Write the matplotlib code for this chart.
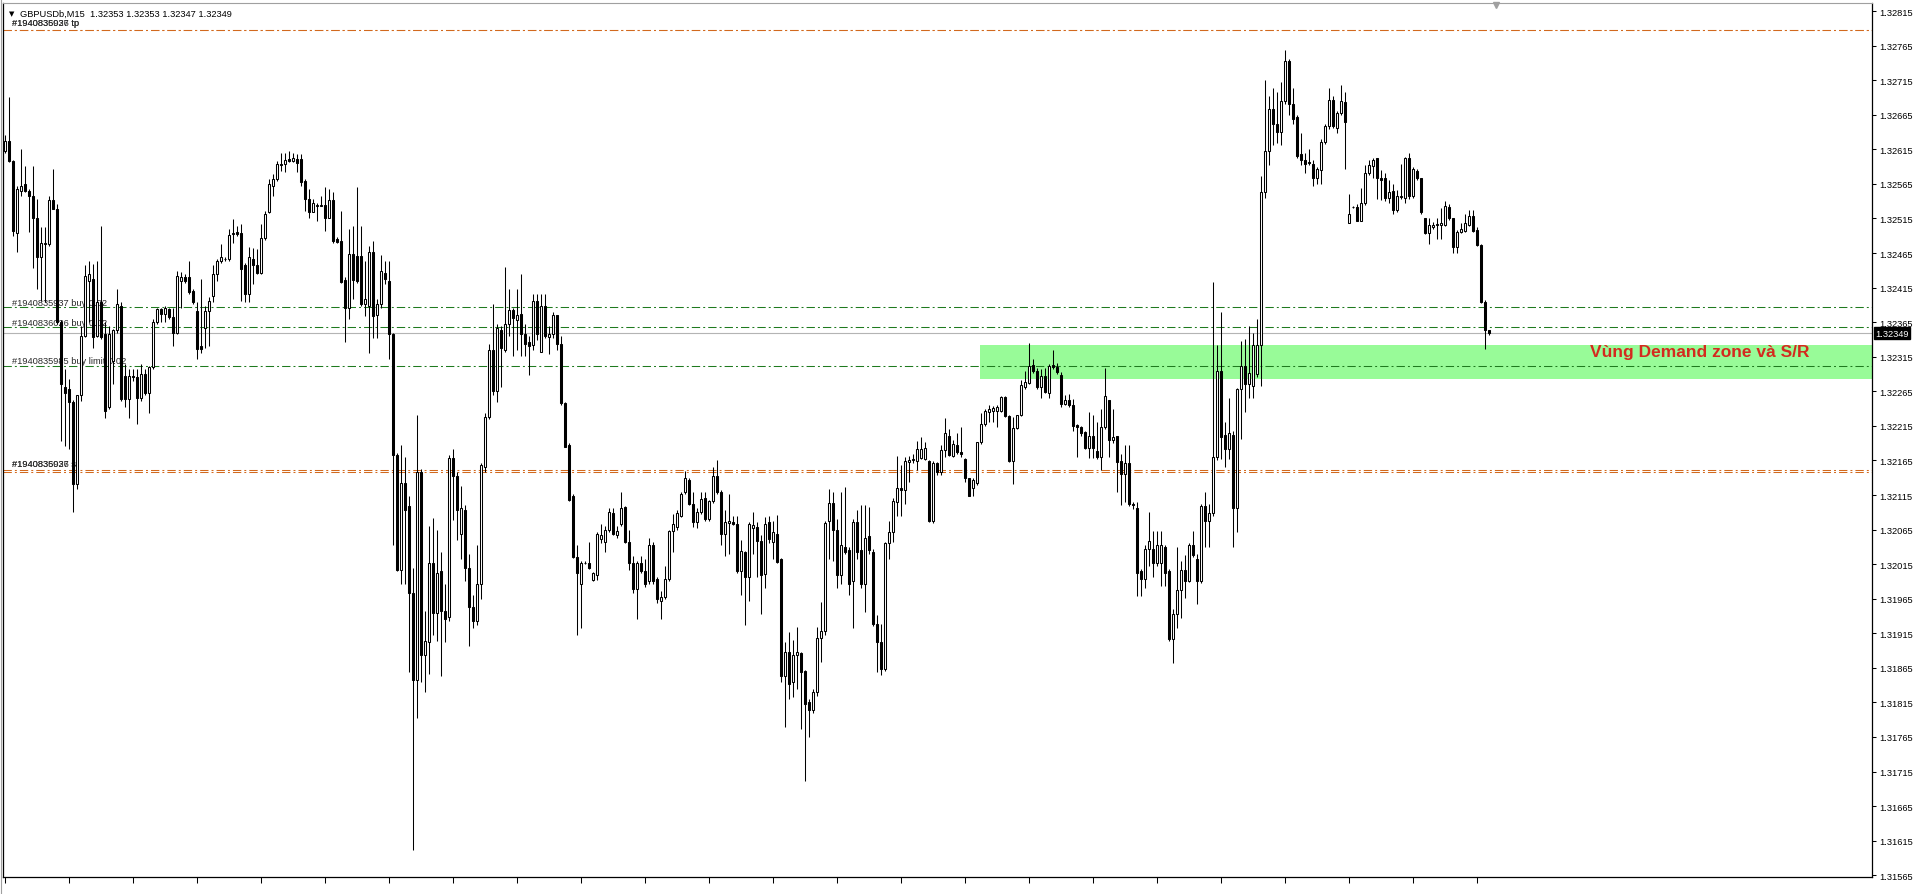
import numpy as np
import matplotlib
matplotlib.use("Agg")
import matplotlib.pyplot as plt
from matplotlib.patches import Rectangle
from matplotlib.lines import Line2D

plt.rcParams['lines.scale_dashes'] = False
plt.rcParams['font.family'] = ['Liberation Sans', 'DejaVu Sans']

# GBPUSDb M15 bars, prices given in points above 1.30000
BASE = 1.30
open_pts = [
    2613, 2627, 2598, 2494, 2555, 2565, 2555, 2548, 2515, 2459,
    2478, 2478, 2541, 2528, 2365, 2271, 2268, 2249, 2131, 2259,
    2345, 2425, 2427, 2345, 2394, 2348, 2242, 2309, 2353, 2389,
    2287, 2254, 2287, 2285, 2256, 2290, 2263, 2300, 2365, 2384,
    2377, 2384, 2372, 2350, 2425, 2431, 2430, 2410, 2381, 2331,
    2357, 2381, 2403, 2434, 2454, 2456, 2456, 2492, 2495, 2494,
    2447, 2406, 2457, 2447, 2436, 2486, 2524, 2562, 2572, 2594,
    2594, 2601, 2598, 2601, 2601, 2569, 2543, 2525, 2533, 2533,
    2534, 2516, 2541, 2485, 2483, 2426, 2385, 2464, 2461, 2461,
    2391, 2389, 2467, 2376, 2391, 2436, 2425, 2348, 2173, 2007,
    2133, 2099, 1973, 1847, 2148, 1884, 1902, 2016, 1944, 2005,
    1947, 1939, 2168, 2142, 2059, 2093, 2010, 1953, 1933, 1987,
    2156, 2228, 2325, 2265, 2353, 2325, 2362, 2383, 2368, 2377,
    2348, 2336, 2332, 2396, 2322, 2388, 2343, 2348, 2375, 2333,
    2248, 2188, 2114, 2025, 1987, 2017, 2017, 1992, 1999, 2051,
    2047, 2065, 2089, 2057, 2073, 2097, 2047, 2017, 1979, 2017,
    2005, 1990, 2042, 1993, 1962, 1967, 1993, 2063, 2068, 2085,
    2119, 2136, 2102, 2076, 2091, 2110, 2080, 2106, 2143, 2119,
    2059, 2074, 2076, 2073, 2005, 2033, 1996, 2067, 2069, 2049,
    2001, 2076, 2047, 2059, 2022, 1853, 1888, 1844, 1884, 1886,
    1860, 1816, 1804, 1830, 1908, 1918, 2078, 2104, 2064, 1999,
    2040, 2035, 1991, 2076, 2035, 1987, 2056, 2033, 1929, 1903,
    1864, 2045, 2061, 2105, 2125, 2122, 2163, 2165, 2164, 2168,
    2167, 2164, 2077, 2162, 2148, 2180, 2201, 2172, 2188, 2177,
    2167, 2139, 2125, 2132, 2191, 2217, 2235, 2237, 2237, 2236,
    2257, 2229, 2164, 2212, 2231, 2271, 2277, 2303, 2295, 2271,
    2287, 2263, 2303, 2300, 2289, 2247, 2252, 2245, 2216, 2213,
    2206, 2183, 2200, 2179, 2170, 2213, 2252, 2194, 2200, 2164,
    2146, 2161, 2102, 2096, 2005, 1993, 2037, 2037, 2016, 2016,
    2040, 2005, 1907, 1943, 1978, 2007, 1990, 2043, 2022, 1990,
    2099, 2078, 2089, 2170, 2294, 2202, 2182, 2202, 2096, 2268,
    2302, 2276, 2273, 2290, 2332, 2553, 2612, 2673, 2652, 2640,
    2685, 2742, 2681, 2662, 2608, 2600, 2597, 2594, 2574, 2585,
    2626, 2648, 2686, 2646, 2668, 2683, 2509, 2531, 2531, 2512,
    2537, 2581, 2591, 2602, 2573, 2573, 2544, 2555, 2527, 2546,
    2545, 2602, 2547, 2584, 2573, 2515, 2494, 2503, 2505, 2506,
    2506, 2532, 2515, 2474, 2496, 2497, 2506, 2518, 2498, 2477,
    2394, 2353,
]
high_pts = [
    2635, 2690, 2600, 2562, 2615, 2591, 2557, 2591, 2543, 2502,
    2502, 2548, 2586, 2536, 2368, 2297, 2283, 2252, 2259, 2360,
    2447, 2454, 2449, 2454, 2504, 2365, 2360, 2355, 2413, 2394,
    2304, 2297, 2297, 2297, 2304, 2297, 2302, 2369, 2386, 2386,
    2389, 2386, 2386, 2439, 2437, 2434, 2453, 2413, 2394, 2427,
    2389, 2401, 2447, 2456, 2478, 2459, 2500, 2514, 2504, 2507,
    2451, 2473, 2472, 2471, 2507, 2526, 2572, 2579, 2598, 2610,
    2610, 2613, 2610, 2608, 2608, 2572, 2557, 2543, 2538, 2548,
    2561, 2557, 2553, 2488, 2526, 2431, 2500, 2504, 2560, 2504,
    2454, 2475, 2483, 2399, 2462, 2454, 2454, 2350, 2176, 2188,
    2170, 2113, 2010, 2230, 2153, 1947, 2070, 2082, 2065, 2033,
    1987, 2173, 2182, 2148, 2128, 2100, 2030, 1970, 2042, 2162,
    2233, 2333, 2391, 2362, 2359, 2445, 2413, 2385, 2413, 2434,
    2362, 2345, 2405, 2405, 2405, 2405, 2359, 2379, 2376, 2345,
    2250, 2190, 2116, 2042, 2019, 2019, 2047, 2004, 2062, 2073,
    2070, 2096, 2096, 2070, 2119, 2099, 2065, 2027, 2019, 2027,
    2022, 2053, 2047, 1996, 1976, 2013, 2065, 2087, 2093, 2119,
    2150, 2139, 2119, 2096, 2119, 2119, 2108, 2156, 2165, 2122,
    2093, 2116, 2085, 2085, 2050, 2034, 2076, 2090, 2076, 2057,
    2083, 2085, 2078, 2086, 2024, 1902, 1917, 1905, 1924, 1888,
    1862, 1820, 1835, 1924, 1960, 2077, 2123, 2119, 2081, 2119,
    2127, 2040, 2081, 2093, 2100, 2100, 2098, 2037, 1941, 1928,
    2047, 2077, 2110, 2172, 2158, 2170, 2172, 2175, 2193, 2199,
    2192, 2166, 2164, 2163, 2187, 2226, 2210, 2195, 2205, 2213,
    2168, 2140, 2139, 2192, 2233, 2240, 2245, 2244, 2245, 2258,
    2258, 2230, 2228, 2231, 2281, 2295, 2335, 2312, 2298, 2297,
    2298, 2305, 2324, 2306, 2293, 2259, 2261, 2254, 2218, 2215,
    2207, 2235, 2231, 2220, 2240, 2298, 2253, 2240, 2201, 2175,
    2187, 2187, 2105, 2105, 2008, 2043, 2090, 2063, 2063, 2063,
    2043, 2008, 1950, 2040, 2019, 2028, 2046, 2063, 2030, 2102,
    2120, 2102, 2423, 2332, 2379, 2220, 2255, 2208, 2270, 2338,
    2341, 2359, 2350, 2370, 2577, 2715, 2692, 2704, 2698, 2713,
    2759, 2745, 2704, 2664, 2639, 2609, 2615, 2600, 2590, 2630,
    2651, 2704, 2692, 2671, 2708, 2698, 2550, 2533, 2536, 2559,
    2592, 2600, 2603, 2603, 2585, 2580, 2571, 2565, 2556, 2594,
    2604, 2610, 2589, 2587, 2574, 2515, 2515, 2510, 2515, 2530,
    2540, 2536, 2516, 2498, 2509, 2521, 2527, 2527, 2502, 2478,
    2397, 2353,
]
low_pts = [
    2610, 2596, 2490, 2466, 2548, 2553, 2495, 2444, 2413, 2396,
    2394, 2475, 2528, 2362, 2193, 2186, 2181, 2090, 2124, 2251,
    2343, 2365, 2328, 2343, 2340, 2227, 2239, 2275, 2350, 2251,
    2242, 2227, 2280, 2218, 2251, 2259, 2234, 2297, 2362, 2365,
    2365, 2369, 2331, 2348, 2386, 2422, 2406, 2391, 2312, 2321,
    2328, 2331, 2394, 2424, 2451, 2454, 2454, 2480, 2490, 2396,
    2394, 2394, 2420, 2434, 2434, 2484, 2523, 2548, 2569, 2584,
    2582, 2596, 2596, 2582, 2562, 2526, 2515, 2524, 2512, 2533,
    2497, 2515, 2480, 2480, 2422, 2336, 2369, 2398, 2422, 2389,
    2374, 2321, 2342, 2342, 2385, 2420, 2311, 2042, 2005, 1987,
    1987, 1859, 1601, 1793, 1844, 1830, 1856, 1913, 1904, 1853,
    1902, 1933, 2079, 2050, 2022, 1990, 1896, 1922, 1927, 1965,
    2148, 2225, 2259, 2250, 2271, 2322, 2345, 2316, 2325, 2316,
    2316, 2288, 2325, 2339, 2322, 2342, 2319, 2342, 2325, 2245,
    2184, 2106, 2024, 1913, 1922, 2015, 2008, 1990, 1992, 2045,
    2033, 2062, 2057, 2053, 2070, 2046, 2007, 1973, 1936, 2002,
    1982, 1987, 1987, 1959, 1936, 1965, 1990, 2033, 2065, 2083,
    2116, 2100, 2069, 2067, 2088, 2078, 2078, 2104, 2116, 2042,
    2027, 2030, 2071, 2002, 1970, 1927, 1962, 2030, 1996, 1943,
    1980, 2046, 2023, 2017, 1845, 1779, 1820, 1823, 1835, 1777,
    1702, 1765, 1800, 1825, 1873, 1912, 2023, 2020, 1980, 1987,
    2030, 1970, 1922, 2023, 1980, 1946, 2030, 1925, 1859, 1854,
    1861, 2023, 2047, 2085, 2085, 2102, 2134, 2162, 2151, 2167,
    2165, 2076, 2075, 2144, 2144, 2170, 2171, 2170, 2175, 2170,
    2134, 2113, 2114, 2130, 2189, 2215, 2220, 2221, 2213, 2235,
    2228, 2163, 2131, 2210, 2229, 2268, 2275, 2292, 2268, 2255,
    2262, 2255, 2297, 2290, 2242, 2245, 2243, 2208, 2170, 2200,
    2182, 2168, 2168, 2167, 2151, 2211, 2170, 2190, 2119, 2100,
    2105, 2099, 2095, 1969, 1969, 1981, 2013, 1996, 2013, 1984,
    1984, 1904, 1872, 1922, 1937, 1966, 1989, 2025, 1957, 1988,
    2040, 2040, 2084, 2166, 2167, 2155, 2167, 2040, 2061, 2196,
    2235, 2255, 2255, 2285, 2273, 2544, 2592, 2621, 2624, 2621,
    2680, 2664, 2652, 2603, 2592, 2580, 2592, 2562, 2565, 2565,
    2623, 2645, 2646, 2639, 2665, 2587, 2508, 2530, 2511, 2511,
    2535, 2578, 2574, 2543, 2541, 2540, 2538, 2522, 2524, 2543,
    2538, 2543, 2544, 2570, 2522, 2492, 2478, 2500, 2485, 2485,
    2504, 2513, 2465, 2465, 2494, 2495, 2504, 2495, 2475, 2392,
    2326, 2347,
]
close_pts = [
    2627, 2598, 2497, 2557, 2562, 2555, 2547, 2515, 2459, 2480,
    2480, 2541, 2529, 2365, 2275, 2263, 2249, 2131, 2259, 2345,
    2432, 2434, 2343, 2394, 2343, 2237, 2348, 2353, 2391, 2254,
    2254, 2287, 2285, 2256, 2290, 2263, 2300, 2365, 2384, 2377,
    2386, 2372, 2350, 2432, 2430, 2425, 2408, 2394, 2326, 2326,
    2381, 2396, 2434, 2454, 2459, 2457, 2491, 2494, 2492, 2442,
    2406, 2459, 2447, 2436, 2486, 2522, 2565, 2572, 2594, 2592,
    2599, 2598, 2602, 2595, 2567, 2543, 2525, 2537, 2534, 2534,
    2515, 2541, 2483, 2481, 2423, 2385, 2464, 2426, 2425, 2391,
    2399, 2467, 2374, 2391, 2439, 2428, 2348, 2173, 2007, 2133,
    2093, 1973, 1847, 2148, 1884, 1904, 2016, 1944, 2002, 1947,
    1936, 2168, 2142, 2093, 2096, 2010, 1953, 1933, 1987, 2159,
    2228, 2325, 2265, 2356, 2328, 2362, 2383, 2371, 2376, 2348,
    2333, 2331, 2396, 2348, 2388, 2345, 2348, 2376, 2333, 2248,
    2185, 2108, 2025, 2002, 2017, 2016, 2010, 2002, 2059, 2057,
    2065, 2091, 2059, 2063, 2096, 2047, 2017, 1979, 2017, 2005,
    1987, 2042, 1990, 1965, 1967, 1993, 2063, 2073, 2089, 2116,
    2139, 2102, 2076, 2091, 2109, 2080, 2106, 2142, 2119, 2059,
    2076, 2078, 2073, 2005, 2034, 1996, 2073, 2071, 2049, 1999,
    2073, 2052, 2062, 2018, 1853, 1888, 1842, 1884, 1888, 1859,
    1813, 1804, 1830, 1908, 1918, 2075, 2104, 2064, 1999, 2042,
    2033, 1987, 2076, 2033, 1987, 2053, 2035, 1929, 1903, 1864,
    2045, 2061, 2107, 2125, 2122, 2164, 2166, 2167, 2182, 2182,
    2183, 2077, 2162, 2148, 2180, 2204, 2173, 2189, 2177, 2175,
    2139, 2114, 2136, 2191, 2218, 2237, 2239, 2241, 2242, 2257,
    2229, 2164, 2212, 2230, 2274, 2278, 2302, 2294, 2271, 2287,
    2264, 2302, 2300, 2293, 2247, 2252, 2245, 2215, 2213, 2205,
    2183, 2200, 2183, 2170, 2213, 2258, 2194, 2199, 2163, 2146,
    2161, 2102, 2100, 2002, 1993, 2037, 2048, 2016, 2043, 2043,
    2002, 1907, 1943, 1978, 2007, 1990, 2043, 2028, 1990, 2099,
    2078, 2089, 2170, 2294, 2199, 2182, 2205, 2096, 2268, 2302,
    2276, 2291, 2332, 2332, 2553, 2612, 2674, 2652, 2640, 2685,
    2742, 2681, 2659, 2606, 2600, 2594, 2595, 2574, 2586, 2626,
    2648, 2687, 2649, 2668, 2685, 2654, 2521, 2532, 2512, 2537,
    2581, 2593, 2600, 2573, 2571, 2544, 2553, 2527, 2547, 2547,
    2602, 2547, 2587, 2573, 2524, 2494, 2506, 2506, 2507, 2509,
    2533, 2515, 2474, 2496, 2500, 2508, 2518, 2497, 2477, 2394,
    2353, 2349,
]

# order lines
tp_levels = [1.32788, 1.32788]
sl_levels = [1.32151, 1.32148]
buy_levels = [1.32387, 1.32358]
limit_level = 1.32302
zone_low, zone_high = 1.32283, 1.32332
last_price = 1.32349
tp_labels = ["#1940835937 tp", "#1940836026 tp"]
sl_labels = ["#1940835937 sl", "#1940836026 sl"]
buy_labels = ["#1940835937 buy 0.02", "#1940836026 buy 0.02"]
limit_label = "#1940835985 buy limit 0.02"
zone_text = "Vùng Demand zone và S/R"
header = "GBPUSDb,M15  1.32353 1.32353 1.32347 1.32349"
price_ticks = np.round(np.arange(1.31565, 1.32816, 0.0005), 5)

o = BASE + np.array(open_pts) / 1e5
h = BASE + np.array(high_pts) / 1e5
l = BASE + np.array(low_pts) / 1e5
c = BASE + np.array(close_pts) / 1e5
x = np.arange(len(o))

W, H = 1917, 895
fig = plt.figure(figsize=(W / 100, H / 100), dpi=100)
ax = fig.add_axes([3 / W, (H - 878) / H, (1872 - 3) / W, (878 - 4) / H])
ax.set_xlim(-0.5, 466.75)
ax.set_ylim(1.315625, 1.328266)

dash = (6, 2.2, 1.4, 2.2)
green = '#1f7a1f'
orange = '#d2691e'

# demand zone
ax.add_patch(Rectangle((243.75, zone_low), 466.75 - 243.75, zone_high - zone_low,
                       facecolor='#98fb98', edgecolor='none', zorder=0.5))

ax.axhline(last_price, color='#b4b4b4', lw=0.8, zorder=1)
for lv in tp_levels + sl_levels:
    ax.axhline(lv, color=orange, lw=0.75, dashes=dash, zorder=2)
for lv in buy_levels + [limit_level]:
    ax.axhline(lv, color=green, lw=0.75, dashes=dash, zorder=2)

lab_kw = dict(fontsize=6.7, color='#2a2a2a', ha='left', va='center', zorder=2.5)
for t in tp_labels:
    ax.text(1.75, 1.32798, t, **lab_kw)
for t in sl_labels:
    ax.text(1.75, 1.32160, t, **lab_kw)
ax.text(1.75, 1.32394, buy_labels[0], **lab_kw)
ax.text(1.75, 1.32365, buy_labels[1], **lab_kw)
ax.text(1.75, 1.32310, limit_label, **lab_kw)

# candles
ax.vlines(x, l, h, colors='black', linewidth=0.75, zorder=3)
fill = np.where(c >= o, 'white', 'black')
ax.bar(x, np.abs(c - o), bottom=np.minimum(o, c), width=0.5, color=fill,
       edgecolor='black', linewidth=0.75, zorder=4)

ax.text(396.25, 1.32322, zone_text, color='#d42a1e', fontsize=12.5,
        fontweight='bold', ha='left', va='center', zorder=5)

# axes styling like the terminal
ax.yaxis.tick_right()
ax.set_yticks(price_ticks)
ax.set_yticklabels([f"{v:.5f}" for v in price_ticks])
ax.tick_params(axis='y', direction='out', length=3, width=0.75, labelsize=6.7, pad=2)
ax.set_xticks(np.arange(0, len(o), 16))
ax.set_xticklabels([])
ax.tick_params(axis='x', direction='out', length=4, width=0.75)
for s in ['left', 'right', 'bottom']:
    ax.spines[s].set_color('black')
    ax.spines[s].set_linewidth(0.9)
ax.spines['top'].set_color('#a0a0a0')

ax.annotate(f"{last_price:.5f}", xy=(1.0, last_price), xycoords=ax.get_yaxis_transform(),
            xytext=(2.5, 0), textcoords='offset points', ha='left', va='center',
            fontsize=6.7, color='white',
            bbox=dict(boxstyle='square,pad=0.15', fc='black', ec='black'), annotation_clip=False)

ax.plot([372.75], [1.32824], marker='v', ms=4, color='#a0a0a0', clip_on=False, zorder=6)

fig.text(9 / W, 1 - 14 / H, "▼", fontsize=5, va='center', family=['DejaVu Sans'])
fig.text(20 / W, 1 - 14 / H, header, fontsize=6.7, va='center')
fig.add_artist(Line2D([1 / W, 1 / W], [0, 1], color='#a0a0a0', lw=0.8))

fig.savefig("out.png", dpi=100)
